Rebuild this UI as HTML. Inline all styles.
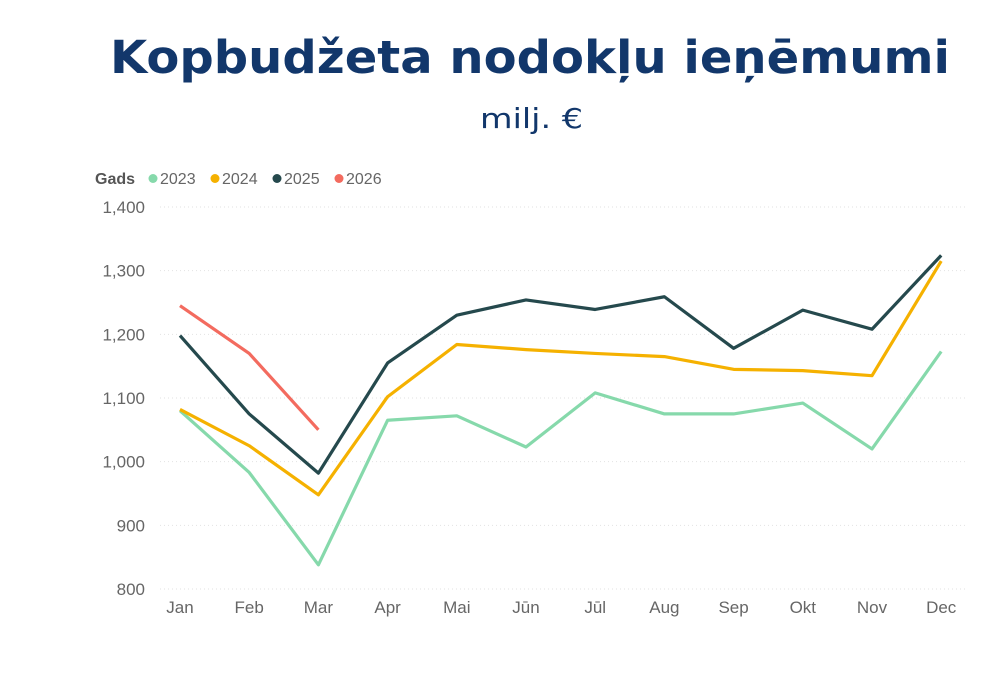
<!DOCTYPE html>
<html><head><meta charset="utf-8"><style>
body{margin:0;background:#fff;width:1000px;height:668px;overflow:hidden;font-family:"Liberation Sans",sans-serif}
</style></head><body>
<svg width="1000" height="668">
<text x="110" y="73" font-size="45" font-weight="bold" fill="#12376b" textLength="840" lengthAdjust="spacingAndGlyphs" font-family="DejaVu Sans, sans-serif">Kopbudžeta nodokļu ieņēmumi</text>
<text x="480" y="128" font-size="28" fill="#12376b" textLength="103" lengthAdjust="spacingAndGlyphs" font-family="DejaVu Sans, sans-serif">milj. €</text>
<g id="legend"><text x="95" y="184" font-size="16" font-weight="bold" fill="#555">Gads</text></g>
<g id="grid"></g><g id="lines"></g>
</svg>
<script>
const months=["Jan","Feb","Mar","Apr","Mai","Jūn","Jūl","Aug","Sep","Okt","Nov","Dec"];
const yTicks=[800,900,1000,1100,1200,1300,1400];
const years=["2023","2024","2025","2026"];
const colors=["#86d9ab","#f5b100","#25494d","#f36b5f"];
const s2023=[1080,983,838,1065,1072,1023,1108,1075,1075,1092,1020,1173];
const s2024=[1082,1025,948,1102,1184,1176,1170,1165,1145,1143,1135,1315];
const s2025=[1198,1075,982,1155,1230,1254,1239,1259,1178,1238,1208,1324];
const s2026=[1245,1170,1050];
const series=[s2023,s2024,s2025,s2026];
const NS="http://www.w3.org/2000/svg";
const x=i=>180+i*69.2, y=v=>589-(v-800)*0.6367;
function mk(t,a,p){const e=document.createElementNS(NS,t);for(const k in a)e.setAttribute(k,a[k]);p.appendChild(e);return e;}
const grid=document.getElementById('grid'),lines=document.getElementById('lines'),leg=document.getElementById('legend');
yTicks.forEach(v=>{
 const l=mk('line',{x1:160,x2:968,y1:y(v),y2:y(v),stroke:'#e2e2e2','stroke-dasharray':'1 3'},grid);
 
 
 const t=mk('text',{x:145,y:y(v)+6,'text-anchor':'end','font-size':17,fill:'#666'},grid);t.textContent=v.toLocaleString('en-US');
 
 
});
months.forEach((m,i)=>{
 const t=mk('text',{x:x(i),y:613,'text-anchor':'middle','font-size':17,fill:'#666'},grid);t.textContent=m;
 
 
});
let lx=153;
years.forEach((yr,k)=>{
 const c=mk('circle',{cx:lx,cy:178.5,r:4.5,fill:colors[k]},leg);
 
 
 const t=mk('text',{x:lx+7,y:184,'font-size':16,fill:'#666'},leg);t.textContent=yr;
 
 
 lx+=62;
});
series.forEach((s,k)=>{
 const p=mk('polyline',{points:s.map((v,i)=>x(i)+','+y(v)).join(' '),fill:'none',stroke:colors[k],'stroke-width':3.2,'stroke-linejoin':'round'},lines);
 
 
});
</script>
</body></html>
